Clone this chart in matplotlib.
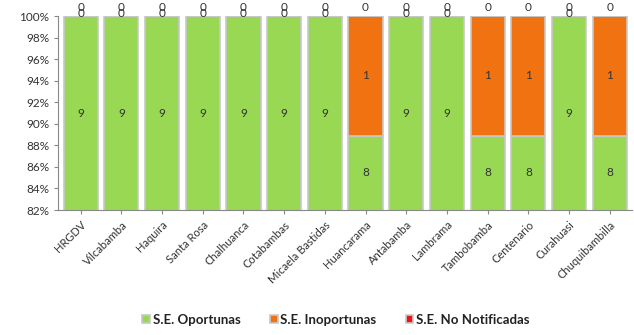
import numpy as np
import matplotlib.pyplot as plt
from matplotlib.ticker import FuncFormatter

plt.rcParams['font.family'] = ['Lato', 'DejaVu Sans']

# data
categorias = ['HRGDV', 'Vilcabamba', 'Haquira', 'Santa Rosa', 'Chalhuanca', 'Cotabambas',
              'Micaela Bastidas', 'Huancarama', 'Antabamba', 'Lambrama', 'Tambobamba',
              'Centenario', 'Curahuasi', 'Chuquibambilla']
oportunas = [9, 9, 9, 9, 9, 9, 9, 8, 9, 9, 8, 8, 9, 8]
inoportunas = [0, 0, 0, 0, 0, 0, 0, 1, 0, 0, 1, 1, 0, 1]
no_notificadas = [0] * 14
series_names = ['S.E. Oportunas', 'S.E. Inoportunas', 'S.E. No Notificadas']

colores = ['#98D853', '#F07211', '#E8161B']

op = np.array(oportunas, dtype=float)
ino = np.array(inoportunas, dtype=float)
nn = np.array(no_notificadas, dtype=float)
tot = op + ino + nn
p_op = op / tot * 100
p_ino = ino / tot * 100
p_nn = nn / tot * 100

fig = plt.figure(figsize=(6.34, 3.35), dpi=100)
ax = fig.add_axes([0.092, 0.373, 0.905, 0.579])

x = np.arange(len(categorias))
w = 0.84
ymin = 82
b1 = ax.bar(x, p_op, w, color=colores[0], edgecolor='#C8C8C8', linewidth=1.2, label=series_names[0])
b2 = ax.bar(x, p_ino, w, bottom=p_op, color=colores[1], edgecolor='#C8C8C8', linewidth=1.2, label=series_names[1])
b3 = ax.bar(x, p_nn, w, bottom=p_op + p_ino, color=colores[2], edgecolor='#C8C8C8', linewidth=1.2, label=series_names[2])

# etiquetas de datos
kw = dict(ha='center', va='center', fontsize=8.5, color='#333333', clip_on=False)
for i in range(len(x)):
    ax.text(x[i], (ymin + p_op[i]) / 2, str(oportunas[i]), **kw)
    if inoportunas[i] > 0:
        ax.text(x[i], p_op[i] + p_ino[i] / 2, str(inoportunas[i]), **kw)
        ax.text(x[i], 100.75, str(no_notificadas[i]), **kw)
    else:
        ax.text(x[i], 100.2, str(inoportunas[i]), **kw)
        ax.text(x[i], 100.75, str(no_notificadas[i]), **kw)

ax.set_ylim(ymin, 100)
ax.set_xlim(-0.55, len(x) - 0.45)
ax.set_yticks(np.arange(82, 101, 2))
ax.yaxis.set_major_formatter(FuncFormatter(lambda v, p: '%d%%' % v))
ax.tick_params(axis='y', labelsize=8.5, length=3, color='#888888', labelcolor='#333333')
ax.set_xticks(x)
ax.set_xticklabels(categorias, rotation=45, ha='right', rotation_mode='anchor', fontsize=8, color='#333333')
ax.tick_params(axis='x', length=3, color='#888888')
for s in ['top', 'right']:
    ax.spines[s].set_visible(False)
for s in ['left', 'bottom']:
    ax.spines[s].set_color('#888888')

leg = fig.legend(handles=[b1, b2, b3], loc='center', bbox_to_anchor=(0.53, 0.045), ncol=3, frameon=False,
                 fontsize=9.5, handlelength=0.6, handleheight=0.6, columnspacing=2.2, handletextpad=0.2)
for t in leg.get_texts():
    t.set_fontweight('bold')
    t.set_color('#222222')

fig.savefig('out.png', dpi=100)
